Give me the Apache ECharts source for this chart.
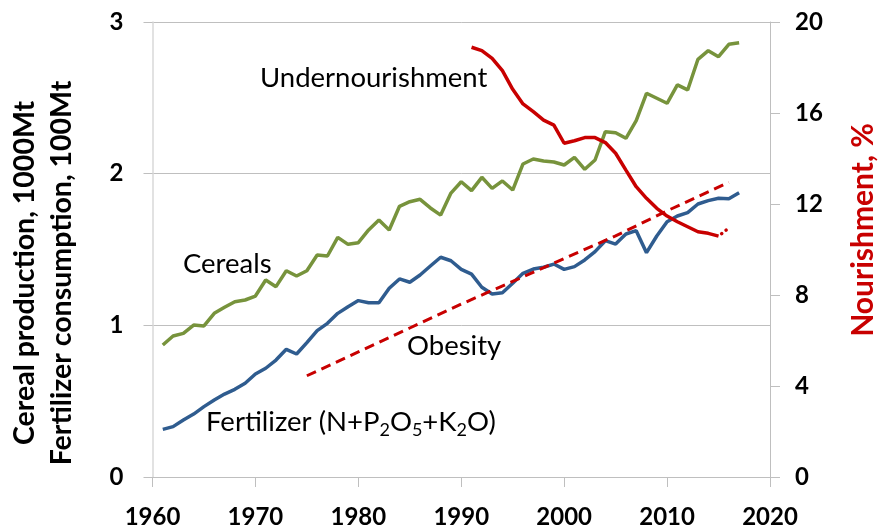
<!DOCTYPE html>
<html lang="en">
<head>
  <meta charset="UTF-8" />
  <title>Cereals, fertilizer and nourishment</title>
  <script src="https://cdn.jsdelivr.net/npm/echarts@6.0.0/dist/echarts.min.js"></script>
  <style>
    html, body { margin: 0; padding: 0; background: #fff; }
    #chart { width: 880px; height: 529px; }
  </style>
</head>
<body>
  <div id="chart"></div>
  <script>
    // years 1961-2017
    const years = [];
    for (let y = 1961; y <= 2017; y++) years.push(y);

    // cereal production, 1000 Mt
    const cereals = [
      0.870, 0.930, 0.947, 1.002, 0.996, 1.079, 1.119, 1.156, 1.167, 1.193,
      1.299, 1.255, 1.360, 1.325, 1.360, 1.464, 1.457, 1.580, 1.534, 1.545,
      1.629, 1.694, 1.629, 1.785, 1.815, 1.831, 1.774, 1.727, 1.872, 1.947,
      1.888, 1.976, 1.903, 1.952, 1.892, 2.064, 2.097, 2.084, 2.077, 2.057,
      2.108, 2.029, 2.090, 2.277, 2.270, 2.233, 2.349, 2.530, 2.497, 2.464,
      2.585, 2.552, 2.754, 2.811, 2.771, 2.853, 2.863
    ];

    // fertilizer consumption (N+P2O5+K2O), 100 Mt
    const fertilizer = [
      0.314, 0.332, 0.376, 0.415, 0.464, 0.508, 0.547, 0.578, 0.618, 0.679,
      0.717, 0.771, 0.842, 0.811, 0.886, 0.965, 1.013, 1.079, 1.123, 1.163,
      1.149, 1.149, 1.244, 1.306, 1.284, 1.332, 1.391, 1.449, 1.426, 1.369,
      1.338, 1.251, 1.207, 1.215, 1.277, 1.343, 1.371, 1.383, 1.404, 1.369,
      1.387, 1.431, 1.486, 1.558, 1.536, 1.602, 1.624, 1.479, 1.589, 1.683,
      1.721, 1.743, 1.800, 1.822, 1.838, 1.835, 1.874
    ];

    // undernourishment, %, 1991-2015
    const underYears = [];
    for (let y = 1991; y <= 2015; y++) underYears.push(y);
    const undernourishment = [
      18.89, 18.74, 18.40, 17.86, 17.04, 16.40, 16.06, 15.69, 15.47, 14.67,
      14.78, 14.92, 14.92, 14.70, 14.23, 13.49, 12.76, 12.25, 11.81, 11.47,
      11.22, 11.00, 10.78, 10.71, 10.59
    ];
    // dotted continuation
    const underTailYears = [2015, 2016];
    const underTail = [10.59, 10.95];

    // obesity, %
    const obesityYears = [1975, 1980, 1985, 1990, 1995, 2000, 2005, 2010, 2016];
    const obesity = [4.45, 5.5, 6.55, 7.6, 8.6, 9.6, 10.6, 11.7, 12.95];

    const zip = (xs, ys) => xs.map((x, i) => [x, ys[i]]);

    const GREEN = '#77933c';
    const BLUE = '#2f5c8f';
    const RED = '#c80000';
    const GRID = '#bfbfbf';
    const FONT = 'Lato';

    const chart = echarts.init(document.getElementById('chart'));

    const tickLabel = {
      color: '#000', fontFamily: FONT, fontWeight: 'bold', fontSize: 24,
      formatter: v => String(v)
    };
    const noteStyle = { fontFamily: FONT, fontSize: 27.5, fill: '#000' };

    chart.setOption({
      animation: false,
      grid: { left: 152.5, right: 110, top: 22, bottom: 52, containLabel: false, outerBoundsMode: 'none' },
      xAxis: {
        type: 'value', min: 1960, max: 2020, interval: 10,
        axisLine: { show: true, lineStyle: { color: GRID, width: 1 } },
        axisTick: { show: true, length: 10, lineStyle: { color: GRID } },
        splitLine: { show: false },
        axisLabel: Object.assign({ margin: 28 }, tickLabel)
      },
      yAxis: [
        {
          type: 'value', min: 0, max: 3, interval: 1,
          axisLine: { show: true, lineStyle: { color: '#d9d9d9', width: 1.5 } },
          axisTick: { show: true, length: 9, lineStyle: { color: GRID } },
          splitLine: { show: true, lineStyle: { color: GRID, width: 1 } },
          axisLabel: Object.assign({ margin: 29 }, tickLabel)
        },
        {
          type: 'value', min: 0, max: 20, interval: 4, position: 'right',
          axisLine: { show: true, lineStyle: { color: GRID, width: 1 } },
          axisTick: { show: true, length: 10, lineStyle: { color: GRID } },
          splitLine: { show: false },
          axisLabel: Object.assign({ margin: 25 }, tickLabel)
        }
      ],
      series: [
        {
          name: 'Cereals', type: 'line', yAxisIndex: 0, data: zip(years, cereals),
          showSymbol: false, lineStyle: { color: GREEN, width: 3.5 }, z: 3
        },
        {
          name: 'Fertilizer', type: 'line', yAxisIndex: 0, data: zip(years, fertilizer),
          showSymbol: false, lineStyle: { color: BLUE, width: 3.5 }, z: 3
        },
        {
          name: 'Undernourishment', type: 'line', yAxisIndex: 1, data: zip(underYears, undernourishment),
          showSymbol: false, lineStyle: { color: RED, width: 3.5 }, z: 4
        },
        {
          name: 'Undernourishment trend', type: 'line', yAxisIndex: 1, data: zip(underTailYears, underTail),
          showSymbol: false, lineStyle: { color: RED, width: 3.5, type: [0.1, 5.5], cap: 'round', dashOffset: -4 }, z: 4
        },
        {
          name: 'Obesity', type: 'line', yAxisIndex: 1, data: zip(obesityYears, obesity),
          showSymbol: false, lineStyle: { color: RED, width: 3, type: [10, 6] }, z: 4
        }
      ],
      graphic: [
        {
          type: 'text', x: 43, y: 273, rotation: Math.PI / 2,
          style: {
            text: 'Cereal production, 1000Mt\nFertilizer consumption, 100Mt',
            font: 'bold 28.5px ' + FONT, fill: '#000', align: 'center', verticalAlign: 'middle', lineHeight: 37
          }
        },
        {
          type: 'text', x: 863, y: 230, rotation: Math.PI / 2,
          style: {
            text: 'Nourishment, %', font: 'bold 30px ' + FONT, fill: RED,
            align: 'center', verticalAlign: 'middle'
          }
        },
        { type: 'text', x: 260, y: 78, style: Object.assign({ text: 'Undernourishment', verticalAlign: 'middle' }, noteStyle) },
        { type: 'text', x: 183, y: 264, style: Object.assign({ text: 'Cereals', verticalAlign: 'middle' }, noteStyle) },
        { type: 'text', x: 407, y: 346, style: Object.assign({ text: 'Obesity', verticalAlign: 'middle' }, noteStyle) },
        {
          type: 'text', x: 206, y: 422,
          style: {
            text: '{n|Fertilizer (N+P}{s|2}{n|O}{s|5}{n|+K}{s|2}{n|O)}',
            verticalAlign: 'middle',
            rich: {
              n: { fontFamily: FONT, fontSize: 27.5, color: '#000' },
              s: { fontFamily: FONT, fontSize: 18, color: '#000', padding: [16, 0, 0, 0] }
            }
          }
        }
      ]
    });
  </script>
</body>
</html>
